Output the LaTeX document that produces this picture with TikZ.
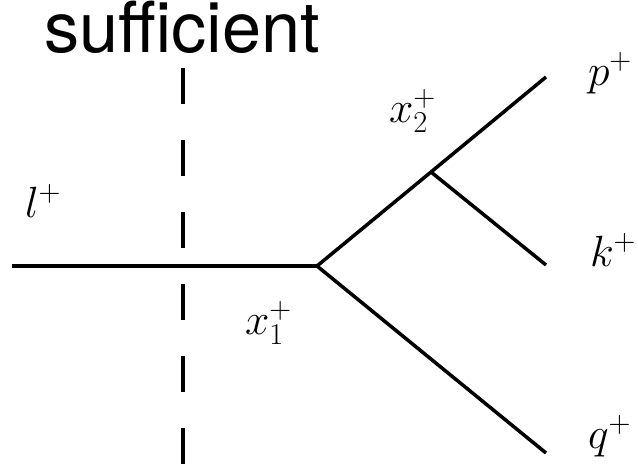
\documentclass[tikz,border=0pt]{standalone}
\usepackage{fontspec}
\setsansfont{TeX Gyre Heros}
\usetikzlibrary{positioning}

\begin{document}
\begin{tikzpicture}[x=0.02cm,y=-0.02cm,
    every node/.style={inner sep=0pt,outer sep=0pt},
    prop/.style={line width=2pt,line cap=butt},
    cutline/.style={line width=1.8pt,dash pattern=on 0.72cm off 0.72cm},
    mom/.style={font=\fontsize{24}{28}\selectfont,anchor=base west}]
  \useasboundingbox (0,0) rectangle (638,463);

  \node[font=\sffamily\fontsize{40}{46}\selectfont,anchor=base west] (title) at (44,52) {sufficient};

  \coordinate (lin) at (12,266);
  \coordinate (v1) at (317,266);
  \coordinate (v2) at (431,172);
  \coordinate (pend) at (546,77);
  \coordinate (kend) at (546,265);
  \coordinate (qend) at (546,453);
  \coordinate (cuttop) at (183,68);
  \coordinate (cutbot) at (183,475);

  \draw[prop] (lin) -- (v1);
  \draw[prop] (v1) -- (v2) -- (pend);
  \draw[prop] (v2) -- (kend);
  \draw[prop] (v1) -- (qend);
  \draw[cutline] (cuttop) -- (cutbot);

  \node[mom] (lplus) at (25,217) {$l^+$};
  \node[mom] (pplus) at (588,85) {$p^+$};
  \node[mom] (kplus) at (590,266) {$k^+$};
  \node[mom] (qplus) at (588,448) {$q^+$};
  \node[mom] (xtwo) at (389,122) {$x_2^+$};
  \node[mom] (xone) at (245,334) {$x_1^+$};
\end{tikzpicture}
\end{document}
